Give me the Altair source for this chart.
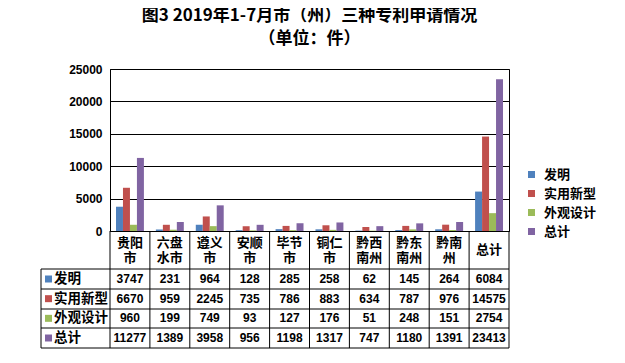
import altair as alt
import pandas as pd

categories = ["贵阳市", "六盘水市", "遵义市", "安顺市", "毕节市", "铜仁市", "黔西南州", "黔东南州", "黔南州", "总计"]
cat_labels = ["贵阳\n市", "六盘\n水市", "遵义\n市", "安顺\n市", "毕节\n市", "铜仁\n市", "黔西\n南州", "黔东\n南州", "黔南\n州", "总计"]
series = ["发明", "实用新型", "外观设计", "总计"]
invention = [3747, 231, 964, 128, 285, 258, 62, 145, 264, 6084]
utility = [6670, 959, 2245, 735, 786, 883, 634, 787, 976, 14575]
design = [960, 199, 749, 93, 127, 176, 51, 248, 151, 2754]
total = [11277, 1389, 3958, 956, 1198, 1317, 747, 1180, 1391, 23413]
colors = ["#4F81BD", "#C0504D", "#9BBB59", "#8064A2"]
y_ticks = [0, 5000, 10000, 15000, 20000, 25000]

rows = []
for s, vals in zip(series, [invention, utility, design, total]):
    for c, v in zip(categories, vals):
        rows.append({"category": c, "series": s, "value": v})
df = pd.DataFrame(rows)

two_rows, one_rows = [], []
for c, lab in zip(categories, cat_labels):
    parts = lab.split("\n")
    if len(parts) == 2:
        two_rows.append({"category": c, "line1": parts[0], "line2": parts[1]})
    else:
        one_rows.append({"category": c, "line": parts[0]})
df_two = pd.DataFrame(two_rows)
df_one = pd.DataFrame(one_rows)
df_ser = pd.DataFrame({"series": series})

W, H = 399, 162
CJK = "Noto Sans CJK SC"
NUM = "Liberation Sans"

x_scale = alt.Scale(domain=categories, paddingInner=0.3, paddingOuter=0.15)
color_scale = alt.Scale(domain=series, range=colors)
row_scale = alt.Scale(domain=series, range=[210, 269], padding=0)
legend = alt.Legend(title=None, orient="none", legendX=415, legendY=99,
                    symbolType="square", symbolSize=49, symbolStrokeWidth=0,
                    labelFont=CJK, labelFontWeight="bold", labelFontSize=13,
                    labelColor="black", rowPadding=5, labelOffset=6, padding=0)

bars = alt.Chart(df).mark_bar().encode(
    x=alt.X("category:N", scale=x_scale, axis=None),
    xOffset=alt.XOffset("series:N", scale=alt.Scale(domain=series, paddingInner=0, paddingOuter=0)),
    y=alt.Y("value:Q", scale=alt.Scale(domain=[0, 25000], nice=False),
            axis=alt.Axis(values=y_ticks, format="d", title=None, grid=True, gridColor="black",
                          gridOpacity=1, ticks=False, domain=True, domainColor="black",
                          labelFont=NUM, labelFontWeight="bold", labelFontSize=12,
                          labelColor="black", labelPadding=8)),
    color=alt.Color("series:N", scale=color_scale, legend=legend),
)

values_text = alt.Chart(df).mark_text(font=NUM, fontWeight="bold", fontSize=12, color="black").encode(
    x=alt.X("category:N", scale=x_scale, axis=None),
    y=alt.Y("series:N", scale=row_scale, axis=None),
    text=alt.Text("value:Q", format="d"),
)

hdr_style = dict(font=CJK, fontWeight="bold", fontSize=13, color="black", baseline="middle")
header_top = alt.Chart(df_two).mark_text(**hdr_style).encode(
    x=alt.X("category:N", scale=x_scale, axis=None),
    y=alt.value(174),
    text="line1:N",
)
header_bottom = alt.Chart(df_two).mark_text(**hdr_style).encode(
    x=alt.X("category:N", scale=x_scale, axis=None),
    y=alt.value(189),
    text="line2:N",
)
header_single = alt.Chart(df_one).mark_text(**hdr_style).encode(
    x=alt.X("category:N", scale=x_scale, axis=None),
    y=alt.value(181),
    text="line:N",
)

row_labels = alt.Chart(df_ser).mark_text(font=CJK, fontWeight="bold", fontSize=13.5,
                                         align="left", color="black").encode(
    x=alt.value(-56),
    y=alt.Y("series:N", scale=row_scale, axis=None),
    text="series:N",
)

row_squares = alt.Chart(df_ser).mark_square(size=49, opacity=1).encode(
    x=alt.value(-61.5),
    y=alt.Y("series:N", scale=row_scale, axis=None),
    color=alt.Color("series:N", scale=color_scale, legend=legend),
)

one = pd.DataFrame({"d": [0]})
rules = []
for i in range(len(categories) + 1):
    xv = i * W / len(categories)
    rules.append(alt.Chart(one).mark_rule(color="black", strokeWidth=1).encode(
        x=alt.value(xv), y=alt.value(H), y2=alt.value(279)))
rules.append(alt.Chart(one).mark_rule(color="black", strokeWidth=1).encode(
    x=alt.value(-69), y=alt.value(200), y2=alt.value(279)))
for yv in [200, 220, 240, 259, 279]:
    rules.append(alt.Chart(one).mark_rule(color="black", strokeWidth=1).encode(
        x=alt.value(-69), x2=alt.value(W), y=alt.value(yv)))

chart = alt.layer(bars, values_text, header_top, header_bottom, header_single,
                  row_labels, row_squares, *rules).resolve_scale(
    y="independent"
).properties(
    width=W,
    height=H,
    autosize=alt.AutoSizeParams(type="none"),
    padding={"left": 102, "top": 61, "right": 108, "bottom": 124},
    title=alt.TitleParams(
        text=["图3 2019年1-7月市（州）三种专利申请情况", "（单位：件）"],
        font=CJK, fontSize=17, fontWeight="bold", color="black",
        anchor="middle", frame="group", offset=15, lineHeight=23,
    ),
).configure_view(stroke="black", strokeWidth=1)

chart.save("out.html", embed_options={"renderer": "svg", "actions": False})
